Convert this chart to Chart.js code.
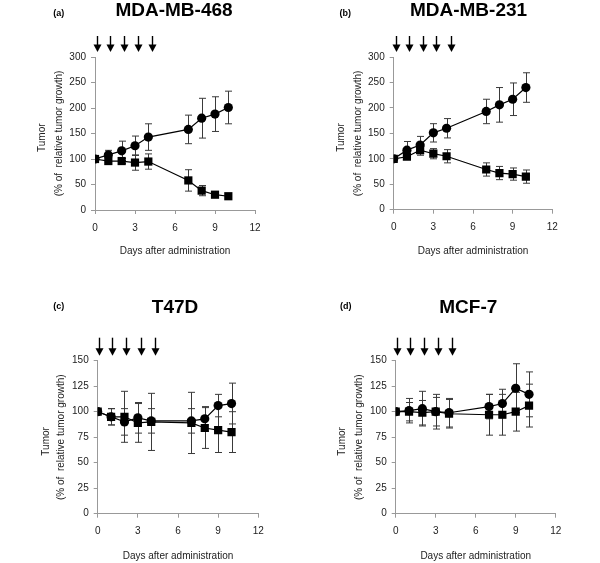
<!DOCTYPE html>
<html><head><meta charset="utf-8">
<script src="https://cdn.jsdelivr.net/npm/chart.js@4.4.1/dist/chart.umd.min.js"></script>
<style>
html,body{margin:0;padding:0;background:#fff;}
#wrap{position:relative;width:600px;height:563px;overflow:hidden;background:#fff;}
.p{position:absolute;}
canvas{display:block;}
</style></head><body><div id="wrap">
<div class="p" style="left:0px;top:0px"><canvas id="ca" width="300" height="280"></canvas></div>
<div class="p" style="left:300px;top:0px"><canvas id="cb" width="300" height="280"></canvas></div>
<div class="p" style="left:0px;top:290px"><canvas id="cc" width="300" height="273"></canvas></div>
<div class="p" style="left:300px;top:290px"><canvas id="cd" width="300" height="273"></canvas></div>
</div>
<script>
// ---------- DATA ----------
const days = [0, 1, 2, 3, 4, 7, 8, 9, 10];
const xTicks = [0, 3, 6, 9, 12];
const yTicksTop = [0, 50, 100, 150, 200, 250, 300];
const yTicksBottom = [0, 25, 50, 75, 100, 125, 150];
const doseDaysTop = [0.15, 1.15, 2.2, 3.2, 4.3];
const doseDaysBottom = [0.07, 1.1, 2.15, 3.2, 4.25];

const mda468Circle    = [100, 108, 116, 126, 143, 158, 180, 188, 201];
const mda468CircleErr = [0, 9, 19, 19, 26, 28, 39, 34, 32];
const mda468Square    = [100, 96, 96, 93, 95, 58, 38, 30, 27];
const mda468SquareErr = [0, 4, 5, 15, 15, 21, 10, 5, 5];

const mda231Circle    = [100, 117, 127, 151, 160, 193, 206, 217, 240];
const mda231CircleErr = [0, 17, 17, 18, 19, 24, 34, 32, 29];
const mda231Square    = [100, 104, 117, 110, 105, 79, 72, 70, 65];
const mda231SquareErr = [0, 5, 10, 10, 13, 13, 13, 12, 13];

const t47dCircle    = [100, 95, 90, 94, 91, 91, 93, 106, 108];
const t47dCircleErr = [0, 8, 13, 15, 12, 12, 12, 11, 20];
const t47dSquare    = [100, 95, 95, 89, 90, 89, 84, 82, 80];
const t47dSquareErr = [0, 8, 25, 19, 28, 30, 20, 22, 20];

const mcf7Circle    = [100, 101, 103, 100, 99, 105, 108, 123, 117];
const mcf7CircleErr = [0, 12, 17, 14, 14, 12, 14, 24, 22];
const mcf7Square    = [100, 100, 99, 100, 98, 97, 97, 100, 106];
const mcf7SquareErr = [0, 9, 12, 17, 14, 20, 20, 19, 21];

// ---------- LAYOUT ----------
const FAM = '"Liberation Sans", Arial, Helvetica, sans-serif';
const panels = [
  {id:'ca', tag:'(a)', title:'MDA-MB-468', circle:mda468Circle, circleErr:mda468CircleErr, square:mda468Square, squareErr:mda468SquareErr,
   yMax:300, yTicks:yTicksTop, doses:doseDaysTop, pad:{left:0,top:57,right:45,bottom:22.5}, yW:95, xH:47.5,
   titleX:174, titleY:11, tagX:58.7, tagY:13.3, yTitlePad:33.5, yLH:1.7, arrowTail:21},
  {id:'cb', tag:'(b)', title:'MDA-MB-231', circle:mda231Circle, circleErr:mda231CircleErr, square:mda231Square, squareErr:mda231SquareErr,
   yMax:300, yTicks:yTicksTop, doses:doseDaysTop, pad:{left:0,top:57,right:47.7,bottom:22.5}, yW:93.7, xH:47.8,
   titleX:168.5, titleY:11, tagX:45.3, tagY:13.3, yTitlePad:32.3, yLH:1.7, arrowTail:21},
  {id:'cc', tag:'(c)', title:'T47D', circle:t47dCircle, circleErr:t47dCircleErr, square:t47dSquare, squareErr:t47dSquareErr,
   yMax:150, yTicks:yTicksBottom, doses:doseDaysBottom, pad:{left:0,top:70.7,right:41.7,bottom:0.5}, yW:97.7, xH:48.8,
   titleX:175, titleY:17.3, tagX:58.7, tagY:16.7, yTitlePad:38.7, yLH:1.5, arrowTail:23},
  {id:'cd', tag:'(d)', title:'MCF-7', circle:mcf7Circle, circleErr:mcf7CircleErr, square:mcf7Square, squareErr:mcf7SquareErr,
   yMax:150, yTicks:yTicksBottom, doses:doseDaysBottom, pad:{left:0,top:70.7,right:44.3,bottom:0.5}, yW:95.7, xH:48.8,
   titleX:168.3, titleY:17.3, tagX:45.7, tagY:16.7, yTitlePad:33.8, yLH:1.7, arrowTail:23}
];

const errorBars = {
  id:'errorBars',
  beforeDatasetsDraw(chart){
    const ctx = chart.ctx, xs = chart.scales.x, ys = chart.scales.y;
    ctx.save();
    ctx.strokeStyle = '#3a3a3a';
    ctx.lineWidth = 1;
    chart.data.datasets.forEach(ds => {
      ds.data.forEach((pt, i) => {
        const e = ds.err[i];
        if (!e) return;
        const x = Math.round(xs.getPixelForValue(pt.x)) + 0.5;
        const yt = ys.getPixelForValue(pt.y + e);
        const yb = ys.getPixelForValue(pt.y - e);
        ctx.beginPath();
        ctx.moveTo(x, yt); ctx.lineTo(x, yb);
        ctx.moveTo(x - 3.5, yt); ctx.lineTo(x + 3.5, yt);
        ctx.moveTo(x - 3.5, yb); ctx.lineTo(x + 3.5, yb);
        ctx.stroke();
      });
    });
    ctx.restore();
  }
};

const decor = {
  id:'decor',
  afterDraw(chart){
    const p = chart.options.plugins.decor;
    const ctx = chart.ctx, xs = chart.scales.x, top = chart.chartArea.top;
    ctx.save();
    ctx.fillStyle = '#000';
    ctx.textAlign = 'center';
    ctx.textBaseline = 'middle';
    ctx.font = 'bold 19px ' + FAM;
    ctx.fillText(p.title, p.titleX, p.titleY);
    ctx.font = 'bold 9px ' + FAM;
    ctx.fillText(p.tag, p.tagX, p.tagY);
    // dose arrows
    ctx.strokeStyle = '#000';
    ctx.lineWidth = 1.4;
    p.doses.forEach(d => {
      const x = Math.round(xs.getPixelForValue(d)) + 0.5;
      const tip = top - 5, tail = top - p.arrowTail;
      ctx.beginPath();
      ctx.moveTo(x, tail); ctx.lineTo(x, tip - 5);
      ctx.stroke();
      ctx.beginPath();
      ctx.moveTo(x - 4, tip - 7.5); ctx.lineTo(x + 4, tip - 7.5); ctx.lineTo(x, tip);
      ctx.closePath(); ctx.fill();
    });
    ctx.restore();
  }
};

panels.forEach(p => {
  const mk = (vals) => days.map((d, i) => ({x:d, y:vals[i]}));
  new Chart(document.getElementById(p.id), {
    type:'line',
    data:{datasets:[
      {data:mk(p.square), err:p.squareErr, borderColor:'#000', borderWidth:1.2, pointStyle:'rect',
       pointRadius:5.8, pointBackgroundColor:'#000', pointBorderWidth:0, pointBorderColor:'#000', tension:0},
      {data:mk(p.circle), err:p.circleErr, borderColor:'#000', borderWidth:1.2, pointStyle:'circle',
       pointRadius:4.6, pointBackgroundColor:'#000', pointBorderWidth:0, pointBorderColor:'#000', tension:0}
    ]},
    options:{
      responsive:false, animation:false, devicePixelRatio:1,
      layout:{padding:p.pad},
      plugins:{legend:{display:false}, tooltip:{enabled:false},
        decor:{title:p.title, titleX:p.titleX, titleY:p.titleY, tag:p.tag, tagX:p.tagX, tagY:p.tagY, doses:p.doses, arrowTail:p.arrowTail}},
      scales:{
        x:{type:'linear', min:0, max:12,
          afterBuildTicks:s => { s.ticks = xTicks.map(v => ({value:v})); },
          afterFit:s => { s.height = p.xH; },
          ticks:{padding:8, color:'#222', font:{size:10, family:FAM}},
          grid:{drawOnChartArea:false, drawTicks:true, tickLength:4, color:'#999'},
          border:{color:'#999', width:1},
          title:{display:true, text:'Days after administration', color:'#222', font:{size:10, family:FAM, lineHeight:1.2}, padding:{top:0, bottom:0}}
        },
        y:{type:'linear', min:0, max:p.yMax,
          afterBuildTicks:s => { s.ticks = p.yTicks.map(v => ({value:v})); },
          afterFit:s => { s.width = p.yW; },
          ticks:{padding:5, color:'#222', font:{size:10, family:FAM}},
          grid:{drawOnChartArea:false, drawTicks:true, tickLength:4, color:'#999'},
          border:{color:'#999', width:1},
          title:{display:true, text:['Tumor   ', '(% of  relative tumor growth)'], color:'#222', font:{size:10, family:FAM, lineHeight:p.yLH}, padding:{top:p.yTitlePad, bottom:0}}
        }
      }
    },
    plugins:[errorBars, decor]
  });
});
</script>
</body></html>
